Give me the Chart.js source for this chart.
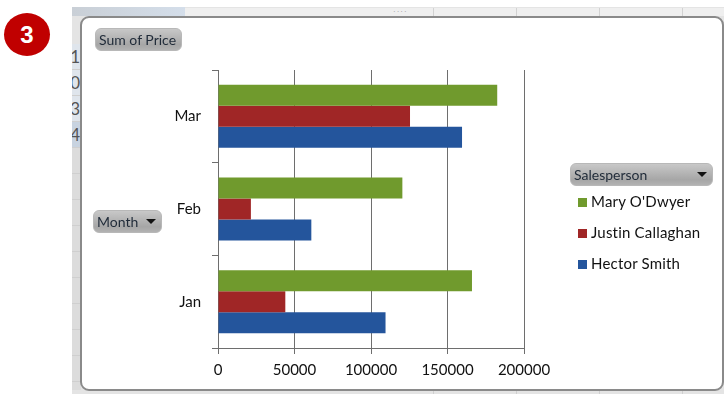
<!DOCTYPE html>
<html>
<head>
<meta charset="utf-8">
<style>
  html, body { margin: 0; padding: 0; background: #fff; }
  #page { position: relative; width: 724px; height: 394px; overflow: hidden; font-family: Lato, sans-serif; }
  #badge { position: absolute; left: 4px; top: 13px; width: 46px; height: 43px; border-radius: 50%; background: #c00000;
    color: #fff; font: bold 24px/43px "Liberation Sans", sans-serif; text-align: center; }
  /* hoja de calculo que queda detras del grafico */
  #sheet { position: absolute; left: 72px; top: 7px; width: 652px; height: 387px; background: #e4e4e4; }
  #sheet .topbar { position: absolute; left: 0; top: 0; width: 113px; height: 9px; background: linear-gradient(90deg, #c9cfd6, #d4deea); }
  #sheet .toprest { position: absolute; left: 113px; top: 1px; right: 0; height: 8px; background: #efefef; }
  #sheet .col { position: absolute; top: 1px; width: 1px; height: 8px; background: #d2d2d2; }
  #sheet .colb { position: absolute; top: 383px; width: 1px; height: 4px; background: #cfcfcf; }
  #sheet .grip { position: absolute; font: 8px/8px "Liberation Sans", sans-serif; letter-spacing: 1px; color: #999; }
  #rows { position: absolute; left: 0; top: 37px; width: 9px; height: 346px; overflow: hidden;
    font: 17px/26px Lato, sans-serif; color: #555; }
  #rows div { box-sizing: border-box; height: 26px; border-bottom: 1px solid #cfcfcf; background: #dfe5ec;
    direction: rtl; padding-right: 1px; }
  #rows div.on { background: #c8d3e0; }
  #rows div.off { background: #dcdcdc; }
  #frame { position: absolute; left: 80px; top: 16px; width: 644px; height: 375px; background: #fff;
    border: 2px solid #8a8a8a; border-radius: 9px; box-sizing: border-box; }
  canvas { position: absolute; left: 0; top: 0; }
  .btn { position: absolute; height: 23px; border-radius: 6px; box-sizing: border-box; border: 1px solid #b8b8b8;
    background: linear-gradient(#c8c8c8, #a6a6a6 75%, #b2b2b2); color: #1f2a38; font-size: 14px; line-height: 21px;
    padding-left: 3px; white-space: nowrap; }
  .btn i { position: absolute; top: 8px; width: 0; height: 0; border: 5px solid transparent; border-top: 5px solid #111; border-bottom: 0; }
  #legend { position: absolute; left: 578px; top: 188px; }
  #legend div { position: absolute; left: 0; height: 20px; white-space: nowrap; font-size: 15px; line-height: 20px; color: #111; letter-spacing: 0.2px; }
  #legend span { display: inline-block; width: 9px; height: 9px; margin-right: 4px; }
</style>
</head>
<body>
<div id="page">
  <div id="badge">3</div>
  <div id="sheet">
    <div class="topbar"></div>
    <div class="toprest"></div>
    <div class="col" style="left:361px"></div>
    <div class="col" style="left:444px"></div>
    <div class="col" style="left:527px"></div>
    <div class="col" style="left:610px"></div>
    <div class="colb" style="left:361px"></div>
    <div class="colb" style="left:444px"></div>
    <div class="colb" style="left:527px"></div>
    <div class="colb" style="left:610px"></div>
    <div class="grip" style="left:321px;top:1px">····</div>
    <div class="grip" style="left:1px;top:190px;width:4px">· · · ·</div>
    <div id="rows"><div>1</div><div>0</div><div>3</div><div class="on">4</div><div class="off"></div><div class="off"></div><div class="off"></div><div class="off"></div><div class="off"></div><div class="off"></div><div class="off"></div><div class="off"></div><div class="off"></div><div class="off"></div></div>
  </div>
  <div id="frame"></div>
  <canvas id="grafico" width="724" height="394"></canvas>
  <div class="btn" style="left:95px;top:28px;width:87px;">Sum of Price</div>
  <div class="btn" style="left:93px;top:210px;width:69px;">Month<i style="left:52px;"></i></div>
  <div class="btn" style="left:570px;top:163px;width:143px;">Salesperson<i style="left:126px;"></i></div>
  <div id="legend"></div>
</div>

<script src="https://cdn.jsdelivr.net/npm/chart.js@4"></script>
<script>
const meses = ["Mar", "Feb", "Jan"];
const maryOdwyer = [182500, 120500, 166000];
const justinCallaghan = [125500, 21500, 44000];
const hectorSmith = [159500, 61000, 109500];
const ticksX = [0, 50000, 100000, 150000, 200000];

const vendedores = ["Mary O'Dwyer", "Justin Callaghan", "Hector Smith"];
const colores = ["#709a2d", "#a02626", "#24559c"];
const series = [maryOdwyer, justinCallaghan, hectorSmith];

const colorEje = "#6e6e6e";

new Chart("grafico", {
  type: "bar",
  data: {
    labels: meses,
    datasets: series.map((valores, i) => ({
      label: vendedores[i],
      data: valores,
      backgroundColor: colores[i],
      borderWidth: 0,
      categoryPercentage: 0.68,
      barPercentage: 1,
    })),
  },
  options: {
    indexAxis: "y",
    responsive: false,
    animation: false,
    layout: { padding: { left: 0, right: 200, top: 70, bottom: 0 } },
    plugins: { legend: { display: false }, tooltip: { enabled: false } },
    scales: {
      x: {
        min: 0,
        max: 200000,
        afterBuildTicks: (eje) => {
          eje.ticks = ticksX.map((v) => ({ value: v }));
        },
        afterFit: (eje) => {
          eje.height = 46;
        },
        grid: { color: colorEje, tickLength: 6, lineWidth: 1 },
        border: { color: colorEje },
        ticks: {
          maxRotation: 0,
          autoSkip: false,
          padding: 7,
          color: "#111",
          font: { family: "Lato", size: 15 },
          callback: (v) => String(v),
        },
      },
      y: {
        afterFit: (eje) => {
          eje.width = 218;
        },
        grid: { drawOnChartArea: false, color: colorEje, tickLength: 6, offset: true },
        border: { color: colorEje },
        ticks: {
          padding: 11,
          color: "#111",
          font: { family: "Lato", size: 15 },
        },
      },
    },
  },
});

// leyenda a mano, debajo del boton de Salesperson
const leyenda = document.getElementById("legend");
vendedores.forEach((nombre, i) => {
  const fila = document.createElement("div");
  fila.style.top = 3 + i * 31 + "px";
  fila.innerHTML = `<span style="background:${colores[i]}"></span>${nombre}`;
  leyenda.appendChild(fila);
});
</script>
</body>
</html>
